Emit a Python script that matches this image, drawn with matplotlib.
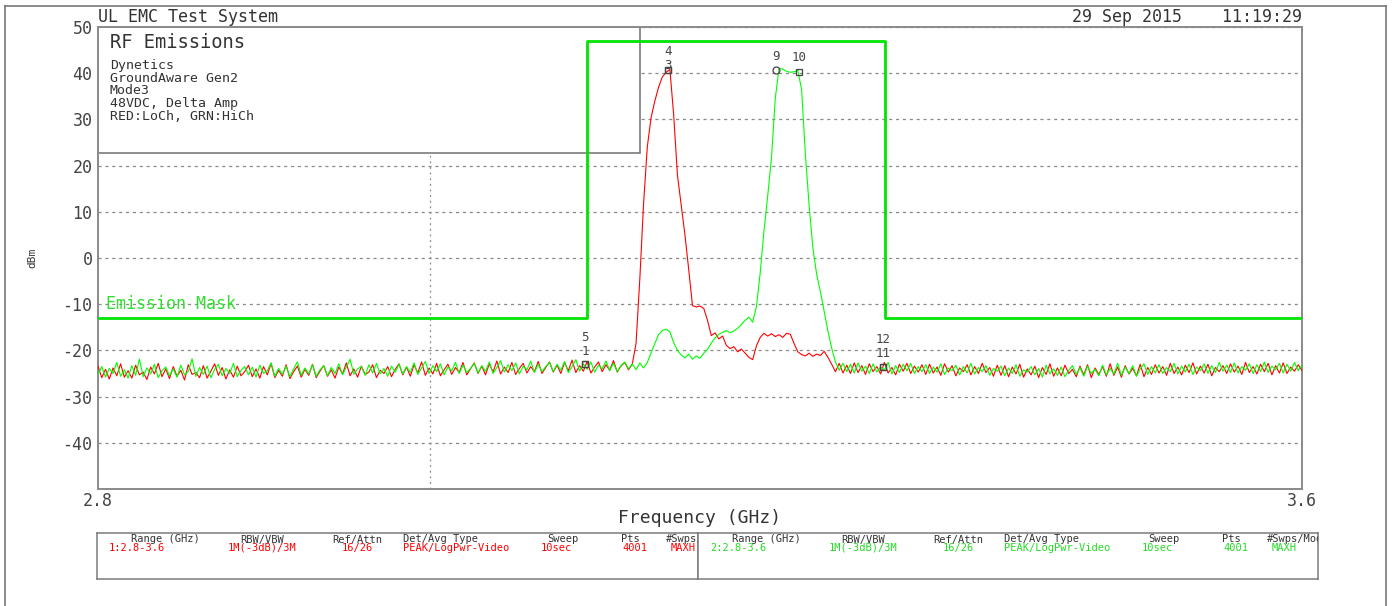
import numpy as np
import matplotlib
matplotlib.use("Agg")
import matplotlib.pyplot as plt
from matplotlib.patches import Rectangle
from matplotlib.lines import Line2D

# ---------------- data ----------------
f_start, f_stop, n_pts = 2.8, 3.6, 321
freq = np.linspace(f_start, f_stop, n_pts)

red_dbm = [
    -23.4, -25.9, -24.1, -26.2, -23.8, -25.5, -22.9, -25.8, -24.4, -26.0, -23.2, -25.3, -24.7, -26.3, -23.6, -25.1, -22.8, -25.7, -24.0, -26.1,
    -23.5, -25.6, -24.3, -26.4, -23.1, -25.2, -24.8, -25.9, -23.3, -26.0, -24.5, -22.9, -25.4, -23.7, -26.2, -24.2, -25.8, -23.4, -25.5, -24.6,
    -23.2, -25.7, -24.0, -26.0, -23.5, -25.3, -22.8, -25.9, -24.3, -25.6, -23.1, -26.1, -24.6, -23.4, -25.8, -24.1, -25.4, -23.0, -25.9, -24.5,
    -23.3, -25.6, -24.2, -26.0, -23.6, -25.1, -22.7, -25.5, -24.0, -25.8, -23.4, -25.2, -24.7, -23.1, -25.9, -24.3, -25.0, -23.5, -25.7, -24.1,
    -22.9, -25.3, -23.6, -25.6, -23.1, -24.9, -22.5, -25.4, -23.8, -25.1, -22.8, -25.5, -24.2, -23.0, -25.2, -23.7, -24.8, -22.6, -25.3, -24.0,
    -22.7, -25.0, -23.4, -25.3, -22.9, -24.7, -22.3, -25.1, -23.6, -24.8, -22.6, -25.2, -23.9, -22.8, -24.9, -23.5, -24.6, -22.4, -25.0, -23.7,
    -22.5, -24.7, -23.2, -25.0, -22.6, -24.4, -22.1, -24.8, -23.3, -24.5, -22.4, -24.9, -23.6, -22.5, -24.6, -23.1, -24.3, -22.2, -24.7, -23.4,
    -22.6, -24.2, -23.0, -18.5, -4.6, 11.7, 24.1, 30.4, 34.0, 37.0, 39.2, 40.2, 40.8, 31.0, 18.0, 11.5, 5.0, -2.5, -10.3, -10.6,
    -10.4, -10.9, -13.5, -16.8, -16.2, -17.5, -16.9, -18.9, -19.6, -19.2, -20.3, -19.7, -20.6, -21.5, -22.0, -19.0, -17.2, -16.3, -16.9, -16.4,
    -17.0, -16.6, -17.2, -16.3, -16.5, -18.5, -20.3, -20.9, -21.2, -20.6, -21.3, -20.8, -21.1, -20.2, -21.5, -23.0, -24.6, -22.8, -24.9, -23.2,
    -25.0, -22.7, -24.8, -23.3, -25.2, -22.9, -24.6, -23.5, -25.1, -22.6, -24.9, -23.7, -25.3, -23.0, -24.5, -22.8, -25.0, -23.4, -24.7, -23.1,
    -25.2, -23.0, -24.9, -23.6, -25.4, -22.9, -24.7, -23.3, -25.5, -23.8, -24.6, -23.1, -25.3, -23.5, -25.0, -22.8, -24.8, -23.7, -25.6, -23.2,
    -25.4, -23.3, -25.7, -23.6, -25.1, -23.0, -25.8, -24.0, -25.3, -23.4, -25.9, -23.7, -25.2, -22.9, -25.6, -23.8, -25.5, -23.2, -25.0, -24.1,
    -25.7, -23.4, -25.3, -23.1, -25.9, -23.8, -25.2, -23.5, -25.6, -22.9, -25.4, -23.6, -25.8, -23.3, -25.1, -23.9, -25.5, -23.0, -25.7, -23.7,
    -25.2, -23.1, -24.9, -23.5, -25.4, -22.8, -25.0, -23.6, -25.3, -23.2, -24.8, -22.7, -25.1, -23.4, -24.9, -23.0, -25.5, -23.7, -24.6, -23.3,
    -25.0, -22.9, -24.7, -23.4, -25.2, -22.6, -24.8, -23.5, -25.1, -23.0, -24.6, -22.8, -25.3, -23.3, -24.9, -22.7, -25.0, -23.6, -24.5, -23.1,
    -24.4,
]

green_dbm = [
    -25.2, -23.5, -25.8, -23.9, -25.0, -22.6, -25.6, -24.2, -26.0, -23.3, -25.4, -21.9, -25.7, -23.8, -25.1, -23.0, -25.9, -24.4, -23.6, -25.5,
    -24.0, -25.8, -23.2, -25.3, -24.6, -21.8, -25.6, -23.7, -25.2, -23.4, -25.9, -24.1, -23.0, -25.5, -23.9, -25.0, -22.8, -25.7, -24.3, -23.5,
    -25.3, -23.6, -25.8, -23.2, -25.0, -24.4, -22.7, -25.6, -23.9, -25.2, -23.4, -25.7, -24.0, -22.5, -25.4, -23.8, -25.1, -23.1, -25.6, -24.2,
    -23.3, -25.5, -23.7, -25.0, -22.9, -25.3, -23.6, -21.9, -25.2, -24.0, -23.5, -25.4, -23.1, -24.9, -22.8, -25.1, -23.9, -25.6, -23.4, -24.7,
    -23.0, -25.1, -23.5, -24.8, -22.7, -25.2, -23.8, -22.4, -25.0, -23.3, -24.6, -22.9, -25.3, -23.6, -24.4, -22.6, -25.0, -23.2, -24.8, -23.9,
    -22.8, -24.9, -23.3, -24.5, -22.5, -25.0, -23.7, -22.2, -24.7, -23.1, -24.4, -22.7, -25.1, -23.4, -24.2, -22.3, -24.8, -23.0, -24.6, -23.5,
    -22.6, -24.6, -23.0, -24.3, -22.4, -24.8, -23.5, -22.0, -24.5, -22.9, -24.1, -22.5, -24.7, -23.2, -24.0, -22.3, -24.4, -22.8, -24.6, -23.3,
    -22.5, -24.0, -22.9, -24.2, -22.7, -23.8, -22.6, -20.5, -18.5, -16.6, -15.7, -15.4, -16.0, -18.3, -20.0, -21.0, -21.6, -20.8, -21.9, -21.2,
    -21.7, -20.6, -19.8, -18.4, -17.3, -16.5, -16.1, -15.7, -16.2, -15.8, -15.2, -14.4, -13.5, -12.8, -13.9, -10.5, -3.2, 5.8, 13.5, 21.7,
    34.5, 41.0, 40.9, 40.4, 40.2, 40.3, 40.6, 36.5, 22.5, 11.4, 2.2, -3.5, -7.3, -11.5, -15.8, -19.5, -22.5, -24.3, -22.8, -24.6,
    -23.0, -24.9, -22.7, -24.5, -23.4, -25.0, -22.9, -24.7, -23.6, -24.2, -22.6, -25.1, -23.3, -24.8, -23.0, -24.4, -22.8, -25.0, -23.5, -24.6,
    -23.1, -25.0, -23.6, -24.7, -22.9, -25.2, -23.8, -24.4, -23.2, -25.3, -23.5, -24.9, -22.8, -25.1, -23.7, -24.6, -23.3, -25.4, -23.9, -24.5,
    -23.4, -25.5, -23.8, -25.0, -23.1, -25.6, -24.2, -24.7, -23.5, -25.3, -23.9, -25.8, -23.2, -25.1, -24.0, -25.4, -23.6, -25.7, -24.3, -23.3,
    -25.2, -23.7, -25.6, -23.4, -25.0, -24.1, -25.5, -23.2, -25.3, -23.9, -25.1, -22.8, -25.4, -23.6, -25.0, -23.3, -25.6, -24.0, -22.9, -25.2,
    -23.5, -24.9, -23.1, -25.0, -23.7, -24.6, -22.8, -25.1, -23.4, -24.7, -23.0, -25.2, -23.6, -24.4, -22.9, -25.0, -23.3, -24.8, -22.6, -24.5,
    -23.2, -24.8, -22.7, -24.9, -23.5, -24.3, -22.9, -25.0, -23.1, -24.6, -22.5, -24.8, -23.4, -24.2, -22.8, -24.9, -23.0, -24.5, -22.6, -24.4,
    -23.1,
]

mask_freq = [2.8, 3.125, 3.125, 3.323, 3.323, 3.6]
mask_dbm = [-13, -13, 47, 47, -13, -13]

marker_labels = ["1", "5", "3", "4", "9", "10", "11", "12"]
marker_freq = [3.1236, 3.1238, 3.1788, 3.1790, 3.2505, 3.2658, 3.3214, 3.3218]
marker_dbm = [-23.0, -23.0, 40.6, 40.8, 40.8, 40.3, -23.5, -23.5]
marker_label_dbm = [-20.3, -17.3, 41.6, 44.6, 43.6, 43.3, -20.6, -17.6]
marker_shape = ["s", "s", "s", "s", "o", "s", "s", "s"]

y_ticks = [50, 40, 30, 20, 10, 0, -10, -20, -30, -40]
x_ticks = [2.8, 3.6]
x_ticklabels = ["2.8", "3.6"]
ref_line_freq = 3.0205

info_title = "RF Emissions"
info_lines = ["Dynetics", "GroundAware Gen2", "Mode3", "48VDC, Delta Amp", "RED:LoCh, GRN:HiCh"]

table_headers = ["Range (GHz)", "RBW/VBW", "Ref/Attn", "Det/Avg Type", "Sweep", "Pts", "#Swps/Mode"]
table_row1 = ["1:2.8-3.6", "1M(-3dB)/3M", "16/26", "PEAK/LogPwr-Video", "10sec", "4001", "MAXH"]
table_row2 = ["2:2.8-3.6", "1M(-3dB)/3M", "16/26", "PEAK/LogPwr-Video", "10sec", "4001", "MAXH"]

assert len(red_dbm) == n_pts and len(green_dbm) == n_pts

# ---------------- figure ----------------
W, H = 1393, 606
FONT = "DejaVu Sans Mono"
plt.rcParams["font.family"] = [FONT, "DejaVu Sans"]
fig = plt.figure(figsize=(W / 100, H / 100), dpi=100)
fig.patch.set_facecolor("white")

def fx(x):
    return x / W

def fy(y):
    return 1 - y / H

TXT = "#333333"
RED = "#ff0000"
GRN = "#00ff00"
MASK = "#00e400"

# outer frame
for xs, ys in [((5, 5), (6, 606)), ((5, 1386), (6, 6)), ((1386, 1386), (6, 606))]:
    fig.add_artist(Line2D([fx(xs[0]), fx(xs[1])], [fy(ys[0]), fy(ys[1])],
                          transform=fig.transFigure, color="#777777", lw=1.2))

L, R, T, B = 98, 1302, 27, 489
ax = fig.add_axes([fx(L), fy(B), (R - L) / W, (B - T) / H])
ax.set_xlim(f_start, f_stop)
ax.set_ylim(-50, 50)
ax.set_axisbelow(True)
for s in ax.spines.values():
    s.set_color("#8a8a8a")
    s.set_linewidth(1.4)
ax.set_yticks(y_ticks)
ax.set_yticklabels([str(v) for v in y_ticks])
ax.set_xticks(x_ticks)
ax.set_xticklabels(x_ticklabels)
ax.tick_params(axis="both", length=0, labelsize=12, labelcolor="#444444")
ax.tick_params(axis="y", pad=4)
ax.tick_params(axis="x", pad=2)
ax.grid(axis="y", color="#8a8a8a", linestyle=(0, (2.5, 3)), lw=0.9)
ax.axvline(ref_line_freq, color="#8a8a8a", linestyle=(0, (1.5, 3)), lw=0.9, zorder=0.6)

# info box (covers the grid)
box_x1 = f_start + (640 - L) / (R - L) * (f_stop - f_start)
box_y1 = 50 - (153 - T) / (B - T) * 100
ax.add_patch(Rectangle((f_start, box_y1), box_x1 - f_start, 50 - box_y1,
                       facecolor="white", edgecolor="#7a7a7a", lw=1.2, zorder=2.2))

ax.plot(freq, red_dbm, color=RED, lw=0.8, zorder=3)
ax.plot(freq, green_dbm, color=GRN, lw=0.8, zorder=3.1)
ax.plot(mask_freq, mask_dbm, color=MASK, lw=2.0, zorder=3.5)

for lab, mf, md, ly, shp in zip(marker_labels, marker_freq, marker_dbm, marker_label_dbm, marker_shape):
    ax.plot([mf], [md], marker=shp, ms=5, mfc="none", mec="#444444", mew=0.9, ls="none", zorder=4)
    ax.text(mf, ly, lab, ha="center", va="center", fontsize=9, color="#444444", zorder=4)

ax.text(2.805, -10, "Emission Mask", color="#33dd33", fontsize=12, ha="left", va="center", zorder=4)

# header texts
fig.text(fx(98), fy(17), "UL EMC Test System", fontsize=12, color=TXT, ha="left", va="center")
fig.text(fx(1302), fy(17), "29 Sep 2015    11:19:29", fontsize=12, color=TXT, ha="right", va="center")
fig.text(fx(700), fy(518), "Frequency (GHz)", fontsize=13, color=TXT, ha="center", va="center")
fig.text(fx(32), fy(258), "dBm", fontsize=8, color=TXT, ha="center", va="center", rotation=90)

fig.text(fx(110), fy(42), info_title, fontsize=13.5, color=TXT, ha="left", va="center")
for k, line in enumerate(info_lines):
    fig.text(fx(110), fy(65 + 13 * k), line, fontsize=9.5, color=TXT, ha="left", va="center")

# settings table (two halves)
col_x = [68, 165, 260, 306, 466, 533, 600]
col_ha = ["center", "center", "center", "left", "center", "center", "center"]
val_x = [12, 165, 260, 306, 459, 538, 586]
val_ha = ["left", "center", "center", "left", "center", "center", "center"]

for x0, x1, row, color in [(97, 698, table_row1, RED), (698, 1318, table_row2, "#22dd22")]:
    tax = fig.add_axes([fx(x0), fy(579), (x1 - x0) / W, (579 - 533) / H])
    tax.set_xlim(0, x1 - x0)
    tax.set_ylim(46, 0)
    tax.set_xticks([])
    tax.set_yticks([])
    for s in tax.spines.values():
        s.set_color("#7a7a7a")
        s.set_linewidth(1.1)
    for cx, ha, txt in zip(col_x, col_ha, table_headers):
        tax.text(cx, 6.5, txt, fontsize=7.5, color=TXT, ha=ha, va="center", clip_on=True)
    for cx, ha, txt in zip(val_x, val_ha, row):
        tax.text(cx, 15, txt, fontsize=7.5, color=color, ha=ha, va="center", clip_on=True)

fig.savefig("out.png", dpi=100, facecolor="white")
